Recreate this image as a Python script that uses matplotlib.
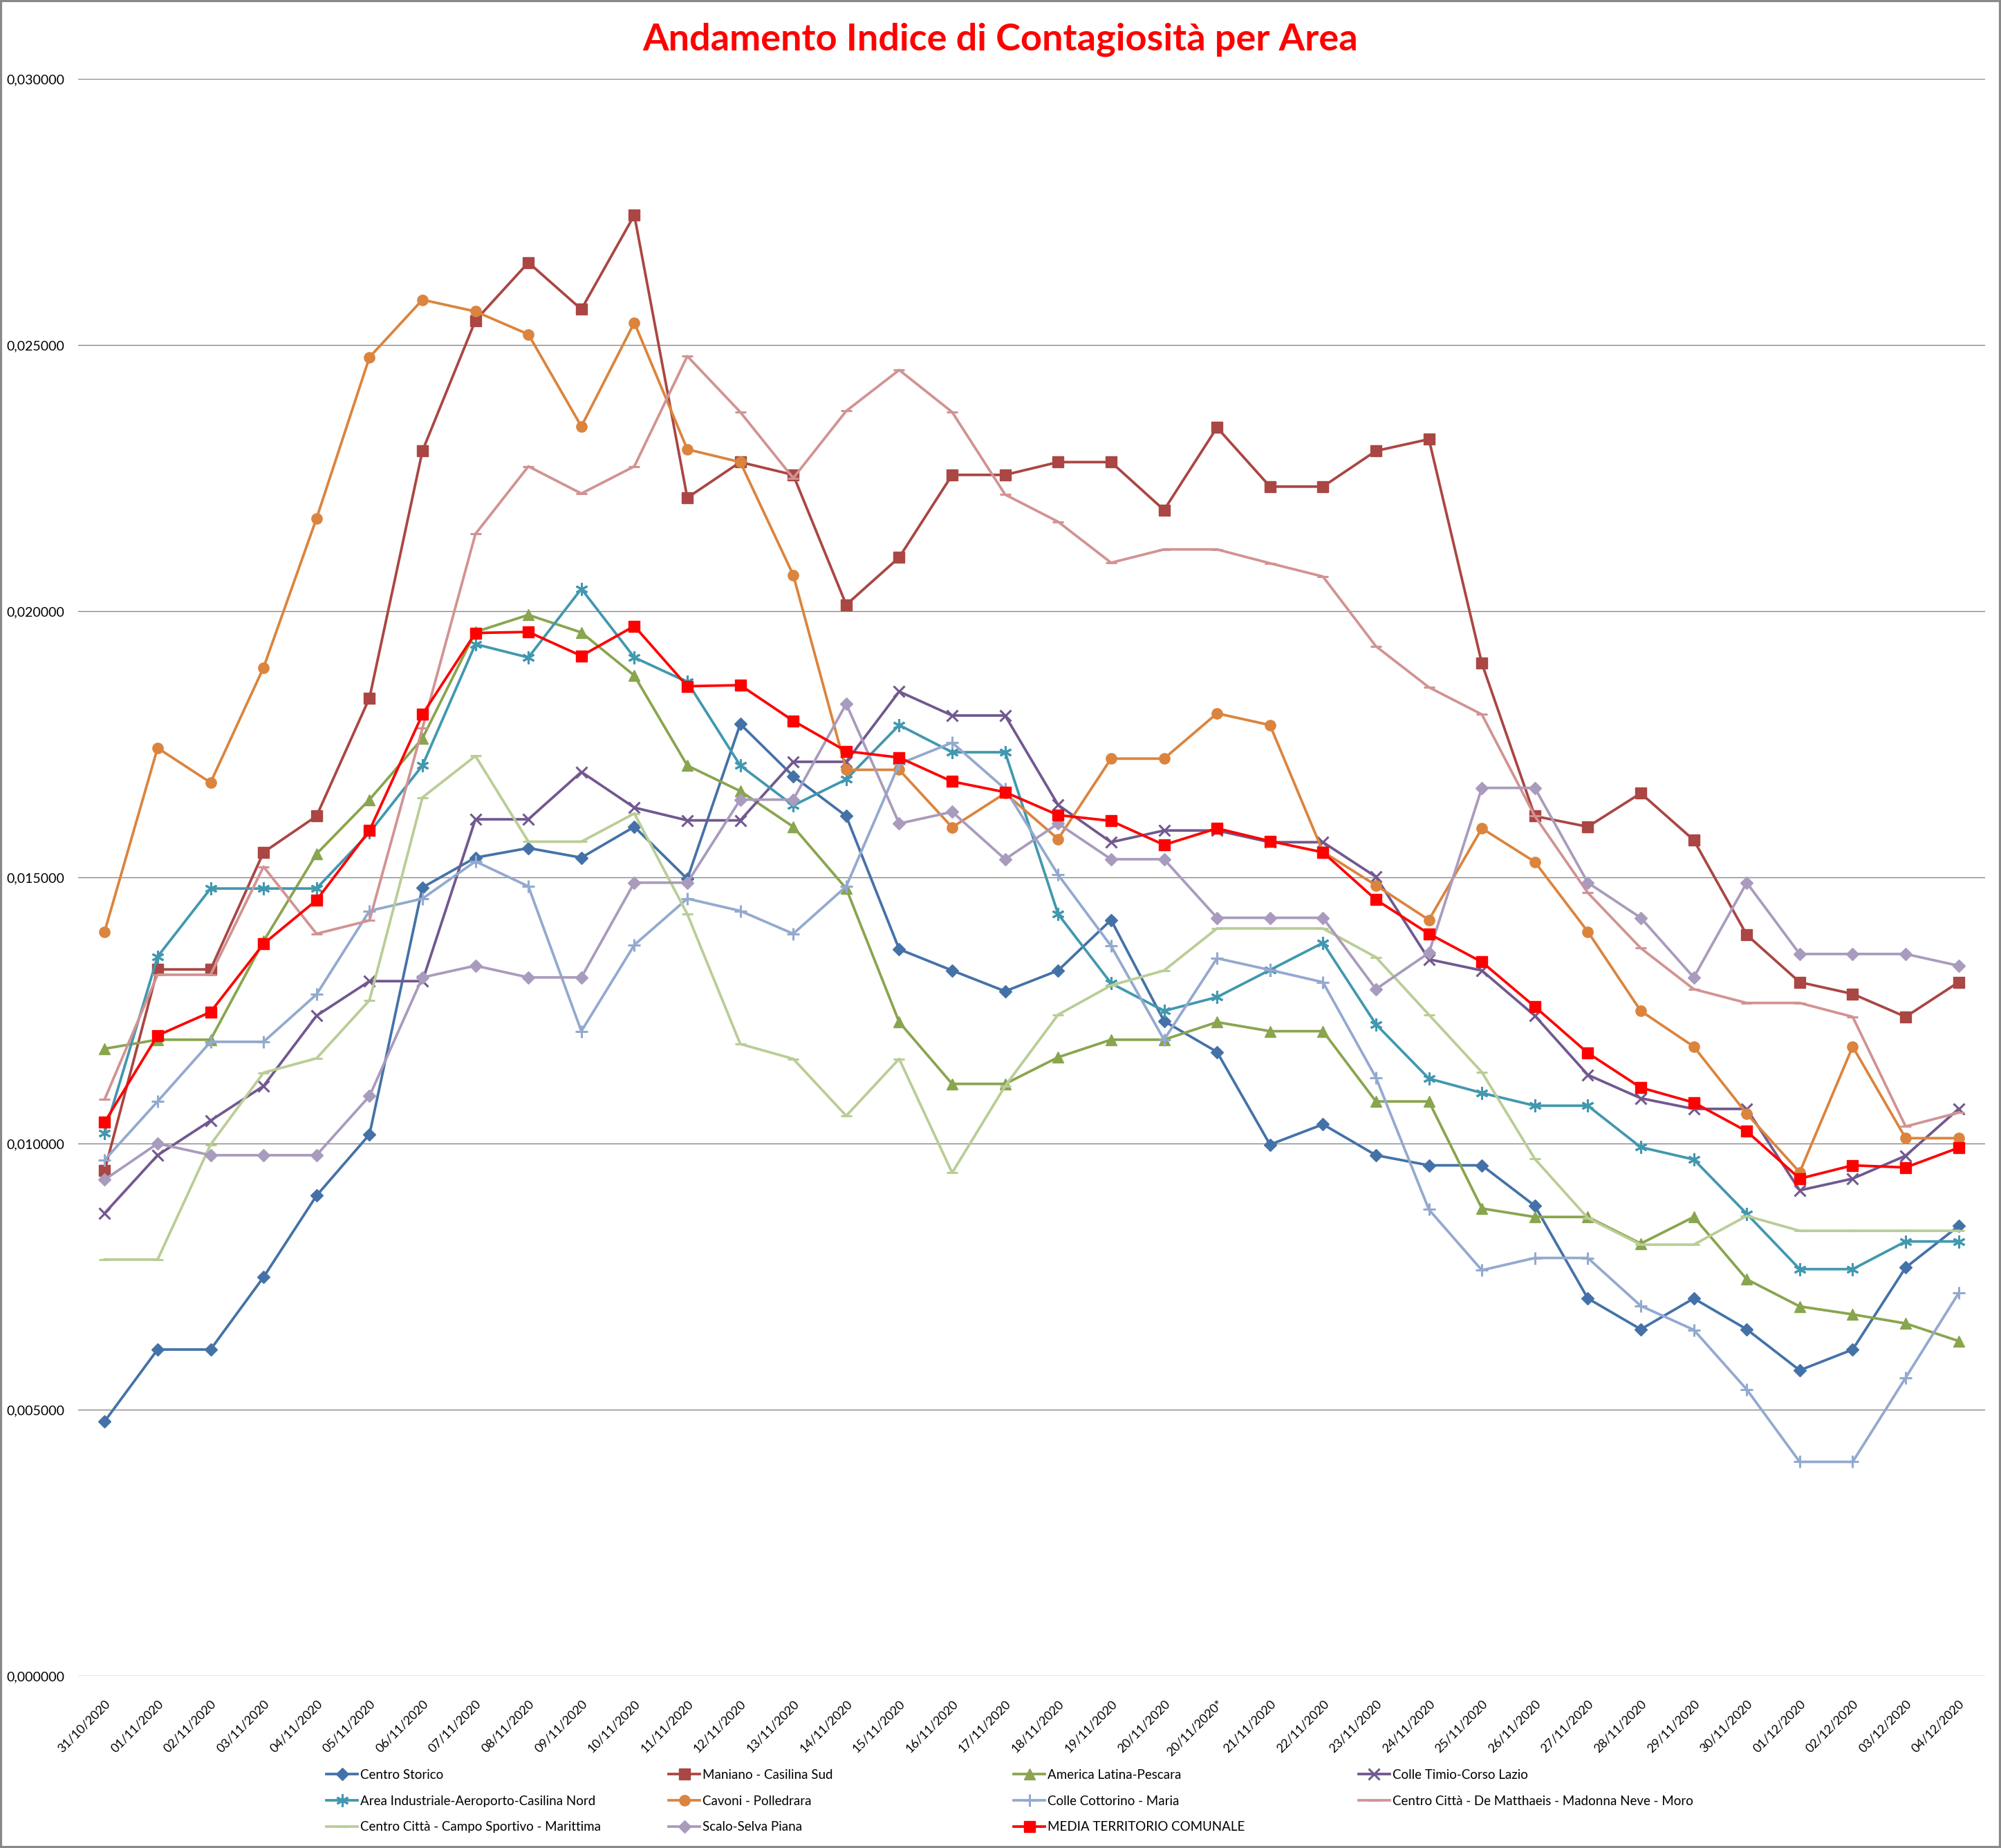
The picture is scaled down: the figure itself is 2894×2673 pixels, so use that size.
import matplotlib
matplotlib.use("Agg")
import matplotlib.pyplot as plt
import numpy as np
from matplotlib.patches import Rectangle
from matplotlib.ticker import FuncFormatter, MultipleLocator

########
# Data #
########
dates = ["31/10/2020", "01/11/2020", "02/11/2020", "03/11/2020", "04/11/2020", "05/11/2020",
         "06/11/2020", "07/11/2020", "08/11/2020", "09/11/2020", "10/11/2020", "11/11/2020",
         "12/11/2020", "13/11/2020", "14/11/2020", "15/11/2020", "16/11/2020", "17/11/2020",
         "18/11/2020", "19/11/2020", "20/11/2020", "20/11/2020*", "21/11/2020", "22/11/2020",
         "23/11/2020", "24/11/2020", "25/11/2020", "26/11/2020", "27/11/2020", "28/11/2020",
         "29/11/2020", "30/11/2020", "01/12/2020", "02/12/2020", "03/12/2020", "04/12/2020"]

# values are in thousandths (x 0.001)
centro_storico = [4.78, 6.13, 6.13, 7.49, 9.02, 10.17, 14.81, 15.37, 15.55, 15.37, 15.95, 14.97,
                  17.88, 16.90, 16.15, 13.65, 13.25, 12.86, 13.25, 14.20, 12.30, 11.72, 9.98, 10.36,
                  9.78, 9.59, 9.59, 8.83, 7.09, 6.51, 7.09, 6.51, 5.74, 6.13, 7.67, 8.45]
maniano = [9.49, 13.27, 13.27, 15.47, 16.15, 18.37, 23.01, 25.46, 26.55, 25.67, 27.44, 22.13,
           22.80, 22.56, 20.12, 21.01, 22.56, 22.56, 22.80, 22.80, 21.90, 23.45, 22.34, 22.34,
           23.01, 23.23, 19.02, 16.15, 15.95, 16.58, 15.70, 13.92, 13.03, 12.81, 12.38, 13.03]
america_latina = [11.78, 11.95, 11.95, 13.80, 15.44, 16.46, 17.61, 19.61, 19.93, 19.60, 18.79, 17.10,
                  16.62, 15.95, 14.79, 12.28, 11.12, 11.12, 11.62, 11.95, 11.95, 12.28, 12.11, 12.11,
                  10.79, 10.79, 8.78, 8.62, 8.62, 8.12, 8.62, 7.45, 6.94, 6.79, 6.62, 6.29]
colle_timio = [8.69, 9.78, 10.43, 11.08, 12.40, 13.05, 13.05, 16.09, 16.09, 16.98, 16.31, 16.07,
               16.07, 17.17, 17.17, 18.49, 18.04, 18.04, 16.36, 15.66, 15.88, 15.88, 15.66, 15.66,
               15.01, 13.46, 13.25, 12.40, 11.29, 10.85, 10.65, 10.65, 9.12, 9.34, 9.77, 10.65]
area_industriale = [10.20, 13.51, 14.79, 14.79, 14.79, 15.84, 17.10, 19.38, 19.13, 20.42, 19.13, 18.67,
                    17.10, 16.35, 16.84, 17.86, 17.35, 17.35, 14.31, 13.01, 12.49, 12.75, 13.26, 13.77,
                    12.24, 11.22, 10.95, 10.71, 10.71, 9.93, 9.70, 8.68, 7.64, 7.64, 8.16, 8.16]
cavoni = [13.98, 17.43, 16.78, 18.94, 21.74, 24.77, 25.85, 25.63, 25.20, 23.47, 25.42, 23.04,
          22.80, 20.68, 17.02, 17.02, 15.94, 16.58, 15.72, 17.23, 17.23, 18.08, 17.86, 15.48,
          14.85, 14.20, 15.92, 15.29, 13.98, 12.49, 11.82, 10.56, 9.46, 11.82, 10.10, 10.10]
colle_cottorino = [9.69, 10.79, 11.91, 11.91, 12.80, 14.37, 14.60, 15.30, 14.83, 12.11, 13.73, 14.60,
                   14.37, 13.94, 14.83, 17.13, 17.53, 16.66, 15.05, 13.71, 11.95, 13.48, 13.26, 13.03,
                   11.24, 8.76, 7.62, 7.85, 7.85, 6.95, 6.50, 5.38, 4.02, 4.02, 5.60, 7.19]
de_matthaeis = [10.83, 13.17, 13.17, 15.20, 13.94, 14.19, 17.80, 21.45, 22.72, 22.21, 22.72, 24.79,
                23.74, 22.50, 23.76, 24.53, 23.74, 22.19, 21.68, 20.91, 21.16, 21.16, 20.90, 20.65,
                19.34, 18.57, 18.06, 16.15, 14.71, 13.67, 12.90, 12.64, 12.64, 12.38, 10.32, 10.58]
campo_sportivo = [7.82, 7.82, 9.98, 11.33, 11.60, 12.69, 16.50, 17.28, 15.67, 15.67, 16.20, 14.31,
                  11.87, 11.59, 10.52, 11.59, 9.45, 11.08, 12.42, 12.97, 13.25, 14.04, 14.04, 14.04,
                  13.50, 12.42, 11.34, 9.71, 8.60, 8.10, 8.10, 8.64, 8.36, 8.36, 8.36, 8.36]
scalo_selva = [9.32, 10.00, 9.78, 9.78, 9.78, 10.89, 13.12, 13.34, 13.12, 13.12, 14.90, 14.90,
               16.46, 16.46, 18.26, 16.01, 16.23, 15.34, 16.01, 15.34, 15.34, 14.24, 14.24, 14.24,
               12.90, 13.58, 16.68, 16.68, 14.90, 14.24, 13.12, 14.90, 13.56, 13.56, 13.56, 13.34]
media = [10.40, 12.03, 12.47, 13.75, 14.57, 15.88, 18.06, 19.59, 19.61, 19.16, 19.72, 18.59,
         18.61, 17.94, 17.37, 17.25, 16.80, 16.60, 16.17, 16.06, 15.61, 15.92, 15.68, 15.47,
         14.58, 13.94, 13.41, 12.57, 11.70, 11.05, 10.77, 10.23, 9.34, 9.59, 9.55, 9.92]

series_names = ["Centro Storico", "Maniano - Casilina Sud", "America Latina-Pescara",
                "Colle Timio-Corso Lazio", "Area Industriale-Aeroporto-Casilina Nord",
                "Cavoni - Polledrara", "Colle Cottorino - Maria",
                "Centro Città - De Matthaeis - Madonna Neve - Moro",
                "Centro Città - Campo Sportivo - Marittima", "Scalo-Selva Piana",
                "MEDIA TERRITORIO COMUNALE"]
series_values = [centro_storico, maniano, america_latina, colle_timio, area_industriale, cavoni,
                 colle_cottorino, de_matthaeis, campo_sportivo, scalo_selva, media]

#########
# Style #
#########
colors = ["#4472A8", "#AA4643", "#89A54E", "#71588F", "#4198AF", "#DB843D",
          "#93A9CF", "#D19392", "#B9CD96", "#A99BBD", "#FF0000"]
markers = ["D", "s", "^", "x", (6, 2, 0), "o", "+", "_", "_", "D", "s"]
msizes = [9, 11, 12, 12, 13, 11, 13, 12, 12, 9, 11.5]

plt.rcParams["font.family"] = ["Lato", "DejaVu Sans"]

W, H = 2894, 2673
fig = plt.figure(figsize=(W / 100, H / 100), dpi=100)
left, right, top, bottom = 113, 2871, 114, 2424
ax = fig.add_axes([left / W, 1 - bottom / H, (right - left) / W, (bottom - top) / H])

x = np.arange(len(dates))
handles = []
for name, vals, c, m, ms in zip(series_names, series_values, colors, markers, msizes):
    y = np.array(vals) * 1e-3
    mew = 2.2 if m in ("x", "+", "_", (6, 2, 0)) else 1
    ln, = ax.plot(x, y, color=c, lw=2.7, marker=m, markersize=ms,
                  markeredgewidth=mew, markerfacecolor=c, markeredgecolor=c, label=name)
    handles.append(ln)

ax.set_xlim(-0.5, len(dates) - 0.5)
ax.set_ylim(0, 0.030)
ax.yaxis.set_major_locator(MultipleLocator(0.005))
ax.yaxis.set_major_formatter(FuncFormatter(lambda v, p: f"{v:.6f}".replace(".", ",")))
ax.grid(axis="y", color="#868686", lw=1.0)
ax.set_axisbelow(True)
for s in ax.spines.values():
    s.set_visible(False)

ax.set_xticks(x)
ax.set_xticklabels(dates, rotation=45, ha="right", rotation_mode="anchor", fontsize=13)
ax.tick_params(axis="x", length=0, pad=23)
ax.tick_params(axis="y", length=0, pad=14, labelsize=14)

fig.text(0.5, 1 - 57 / H, "Andamento Indice di Contagiosità per Area", color="#FF0000",
         fontsize=39, fontweight="bold", ha="center", va="center")

# legend: 4 evenly spaced columns filled row by row
col_x = [472, 967, 1466, 1965]
for col in range(4):
    idx = [i for i in range(len(handles)) if i % 4 == col]
    fig.legend(handles=[handles[i] for i in idx], labels=[series_names[i] for i in idx],
               loc="upper left", bbox_to_anchor=(col_x[col] / W, 1 - 2559 / H),
               frameon=False, fontsize=13.5, handlelength=2.4, handletextpad=0.2,
               labelspacing=1.1, borderpad=0, borderaxespad=0)

# chart area border
fig.patches.append(Rectangle((0.0005, 0.0005), 0.999, 0.999, transform=fig.transFigure,
                             fill=False, edgecolor="#898989", lw=3))

fig.savefig("out.png", dpi=100, facecolor="white")
